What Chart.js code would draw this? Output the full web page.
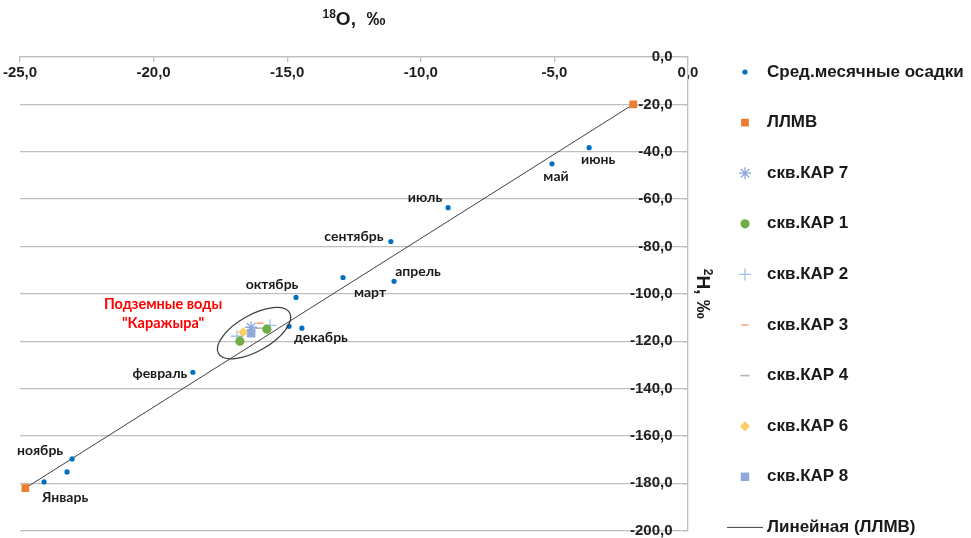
<!DOCTYPE html>
<html>
<head>
<meta charset="utf-8">
<script src="https://cdn.jsdelivr.net/npm/chart.js@4/dist/chart.umd.min.js"></script>
<style>
  html, body { margin: 0; padding: 0; background: #ffffff; }
  #wrap { width: 971px; height: 538px; }
</style>
</head>
<body>
<div id="wrap"><canvas id="chart" width="971" height="538"></canvas></div>
<script>
// Monthly mean precipitation: δ18O and δ2H, ‰
const monthLabels = ['июнь', 'май', 'июль', 'сентябрь', 'апрель', 'март', 'октябрь', '', 'декабрь', 'февраль', 'ноябрь', '', 'Январь'];
const precipO18 = [-3.70, -5.09, -8.98, -11.12, -11.00, -12.91, -14.67, -14.93, -14.45, -18.53, -23.05, -23.24, -24.10];
const precipH2  = [-38.3, -45.1, -63.6, -77.9, -94.7, -93.1, -101.5, -113.7, -114.5, -133.1, -169.7, -175.2, -179.4];

// Local meteoric water line (ЛЛМВ) end points
const lmwlO18 = [-2.05, -24.80];
const lmwlH2  = [-20.0, -182.0];

// Groundwater wells
const kar7O18 = [-16.35];          const kar7H2 = [-114.1];
const kar1O18 = [-16.77, -15.76];  const kar1H2 = [-120.0, -114.9];
const kar2O18 = [-15.64, -16.88];  const kar2H2 = [-113.3, -117.9];
const kar3O18 = [-16.02];          const kar3H2 = [-112.4];
const kar4O18 = [-16.09];          const kar4H2 = [-114.5];
const kar6O18 = [-16.65];          const kar6H2 = [-116.2];
const kar8O18 = [-16.35];          const kar8H2 = [-116.6];

// Centre of the groundwater group outline (δ18O, δ2H)
const groupCentre = [-16.24, -116.6];

// Axis ticks
const xTickStep = 5, xMin = -25, xMax = 0;
const yTickStep = 20, yMin = -200, yMax = 0;

const pts = (xs, ys) => xs.map((v, i) => ({ x: v, y: ys[i] }));

// Least-squares trend line through the ЛЛМВ points
function trend(xs, ys) {
  const n = xs.length;
  const mx = xs.reduce((a, b) => a + b, 0) / n;
  const my = ys.reduce((a, b) => a + b, 0) / n;
  let sxy = 0, sxx = 0;
  xs.forEach((v, i) => { sxy += (v - mx) * (ys[i] - my); sxx += (v - mx) * (v - mx); });
  const k = sxy / sxx, b = my - k * mx;
  const lo = Math.min(...xs), hi = Math.max(...xs);
  return [{ x: lo, y: k * lo + b }, { x: hi, y: k * hi + b }];
}

const fmt = v => Number(v).toFixed(1).replace('.', ',');
// y labels sit left of the axis line with a gap
const fmtY = v => fmt(v) + '   \u2009';
const tickFont = { family: '"Liberation Sans", Arial, sans-serif', size: 15, weight: 'bold' };

// Month names next to the precipitation points
const pointLabels = {
  id: 'pointLabels',
  afterDatasetsDraw(chart, args, opts) {
    const ctx = chart.ctx;
    const meta = chart.getDatasetMeta(0);
    ctx.save();
    ctx.font = opts.font;
    ctx.fillStyle = opts.color;
    ctx.textAlign = 'center';
    ctx.textBaseline = 'middle';
    meta.data.forEach((el, i) => {
      const t = monthLabels[i];
      if (!t) return;
      const [dx, dy] = opts.offsets[i];
      ctx.fillText(t, el.x + dx, el.y + dy);
    });
    ctx.restore();
  }
};

// Outline around the groundwater samples with its caption
const groupOutline = {
  id: 'groupOutline',
  afterDatasetsDraw(chart, args, opts) {
    const ctx = chart.ctx;
    const cx = chart.scales.x.getPixelForValue(groupCentre[0]);
    const cy = chart.scales.y.getPixelForValue(groupCentre[1]);
    ctx.save();
    ctx.beginPath();
    ctx.ellipse(cx, cy, opts.rx, opts.ry, opts.rotation, 0, Math.PI * 2);
    ctx.strokeStyle = opts.color;
    ctx.lineWidth = opts.lineWidth;
    ctx.stroke();
    ctx.font = opts.font;
    ctx.fillStyle = opts.textColor;
    ctx.textAlign = 'center';
    ctx.textBaseline = 'middle';
    opts.caption.forEach((line, i) => {
      ctx.fillText(line, cx + opts.textDx, cy + opts.textDy + i * opts.lineGap);
    });
    ctx.restore();
  }
};

// Axis titles with superscript isotope numbers
const axisTitles = {
  id: 'axisTitles',
  afterDraw(chart, args, opts) {
    const ctx = chart.ctx;
    const a = chart.chartArea;
    const big = 'bold 19px "Liberation Sans", Arial, sans-serif';
    const small = 'bold 12px "Liberation Sans", Arial, sans-serif';
    function drawSup(sup, main, x, y) {
      ctx.font = small; const ws = ctx.measureText(sup).width;
      ctx.font = big;   const wm = ctx.measureText(main).width;
      const sx = x - (ws + wm) / 2;
      ctx.textBaseline = 'alphabetic';
      ctx.textAlign = 'left';
      ctx.font = small; ctx.fillText(sup, sx, y - 7);
      ctx.font = big;   ctx.fillText(main, sx + ws, y);
    }
    ctx.save();
    ctx.fillStyle = opts.color;
    drawSup('18', 'O,  ‰', (a.left + a.right) / 2, opts.xTitleY);
    ctx.translate(a.right + opts.yTitleDx, (a.top + a.bottom) / 2);
    ctx.rotate(Math.PI / 2);
    drawSup('2', 'H, ‰', 0, 0);
    ctx.restore();
  }
};

// Legend column on the right
const sideLegend = {
  id: 'sideLegend',
  afterDraw(chart, args, opts) {
    const ctx = chart.ctx;
    const helpers = Chart.helpers;
    ctx.save();
    chart.data.datasets.forEach((ds, i) => {
      const y = opts.top + i * opts.step;
      const mx = opts.markerX;
      if (ds.showLine) {
        ctx.beginPath();
        ctx.moveTo(mx - opts.lineHalf, y);
        ctx.lineTo(mx + opts.lineHalf, y);
        ctx.strokeStyle = ds.borderColor;
        ctx.lineWidth = ds.borderWidth;
        ctx.stroke();
      } else {
        ctx.fillStyle = ds.backgroundColor;
        ctx.strokeStyle = ds.borderColor;
        ctx.lineWidth = ds.borderWidth;
        helpers.drawPoint(ctx, { pointStyle: ds.pointStyle, radius: ds.pointRadius, rotation: 0, borderWidth: ds.borderWidth }, mx, y);
      }
      ctx.font = opts.font;
      ctx.fillStyle = opts.color;
      ctx.textAlign = 'left';
      ctx.textBaseline = 'middle';
      ctx.fillText(ds.label, opts.textX, y);
    });
    ctx.restore();
  }
};

// The crossing axes should not push the plot edges inward for their end labels
const noEdgePadding = scale => {
  scale.paddingTop = 0;
  scale.paddingBottom = 0;
  scale.paddingLeft = 0;
  scale.paddingRight = 0;
};

const ctx = document.getElementById('chart').getContext('2d');
new Chart(ctx, {
  type: 'scatter',
  data: {
    datasets: [
      { label: 'Сред.месячные осадки', data: pts(precipO18, precipH2), pointStyle: 'circle', pointRadius: 2.6,
        backgroundColor: '#0070C0', borderColor: '#0070C0', borderWidth: 0 },
      { label: 'ЛЛМВ', data: pts(lmwlO18, lmwlH2), pointStyle: 'rect', pointRadius: 5.5,
        backgroundColor: '#ED7D31', borderColor: '#ED7D31', borderWidth: 0 },
      { label: 'скв.КАР 7', data: pts(kar7O18, kar7H2), pointStyle: 'star', pointRadius: 6,
        backgroundColor: 'rgba(0,0,0,0)', borderColor: '#8EA9DB', borderWidth: 1.3 },
      { label: 'скв.КАР 1', data: pts(kar1O18, kar1H2), pointStyle: 'circle', pointRadius: 4.6,
        backgroundColor: '#70AD47', borderColor: '#70AD47', borderWidth: 0 },
      { label: 'скв.КАР 2', data: pts(kar2O18, kar2H2), pointStyle: 'cross', pointRadius: 6,
        backgroundColor: 'rgba(0,0,0,0)', borderColor: '#9DC3E6', borderWidth: 1.3 },
      { label: 'скв.КАР 3', data: pts(kar3O18, kar3H2), pointStyle: 'line', pointRadius: 3.5,
        backgroundColor: 'rgba(0,0,0,0)', borderColor: '#F4A582', borderWidth: 1.6 },
      { label: 'скв.КАР 4', data: pts(kar4O18, kar4H2), pointStyle: 'line', pointRadius: 4.5,
        backgroundColor: 'rgba(0,0,0,0)', borderColor: '#B4B4B4', borderWidth: 1.6 },
      { label: 'скв.КАР 6', data: pts(kar6O18, kar6H2), pointStyle: 'rectRot', pointRadius: 5,
        backgroundColor: '#FFCC66', borderColor: '#FFCC66', borderWidth: 0 },
      { label: 'скв.КАР 8', data: pts(kar8O18, kar8H2), pointStyle: 'rect', pointRadius: 6,
        backgroundColor: '#8EA9DB', borderColor: '#8EA9DB', borderWidth: 0 },
      { label: 'Линейная (ЛЛМВ)', type: 'line', data: trend(lmwlO18, lmwlH2), showLine: true,
        pointRadius: 0, borderColor: '#404040', borderWidth: 1, backgroundColor: '#404040', fill: false }
    ]
  },
  options: {
    responsive: false,
    animation: false,
    events: [],
    clip: false,
    layout: { padding: { left: 20, top: 57, right: 283, bottom: 3 } },
    scales: {
      x: {
        type: 'linear', position: { y: 0 }, min: xMin, max: xMax,
        afterFit: noEdgePadding,
        ticks: { stepSize: xTickStep, callback: fmt, font: tickFont, color: '#1e1e1e', padding: 2, maxRotation: 0, autoSkip: false },
        grid: { drawOnChartArea: false, drawTicks: true, tickLength: 5, color: '#bfbfbf', lineWidth: 1.3 },
        border: { display: true, color: '#bfbfbf', width: 1.3 }
      },
      y: {
        type: 'linear', position: { x: 0 }, min: yMin, max: yMax,
        afterFit: noEdgePadding,
        ticks: { stepSize: yTickStep, callback: fmtY, font: tickFont, color: '#1e1e1e', padding: 4, autoSkip: false },
        grid: { color: '#bfbfbf', lineWidth: 1.3, drawTicks: true, tickLength: 4 },
        border: { display: true, color: '#bfbfbf', width: 1.3 }
      }
    },
    plugins: {
      legend: { display: false },
      tooltip: { enabled: false },
      pointLabels: {
        font: 'bold 14px Lato, "Open Sans", sans-serif',
        color: '#1a1a1a',
        offsets: [[9, 12], [4, 13], [-23, -10], [-37, -5], [24, -10], [27, 15], [-24, -13], [0, 0], [19, 9], [-33, 1], [-32, -8], [0, 0], [21, 16]]
      },
      groupOutline: {
        rx: 41, ry: 18, rotation: -0.52, color: '#404040', lineWidth: 1.3,
        caption: ['Подземные воды', '"Каражыра"'],
        font: 'bold 14.5px Lato, "Open Sans", sans-serif', textColor: '#ff0000',
        textDx: -91, textDy: -29, lineGap: 19
      },
      axisTitles: { color: '#1a1a1a', xTitleY: 25, yTitleDx: 9 },
      sideLegend: {
        top: 72, step: 50.6, markerX: 745, lineHalf: 18, textX: 767,
        font: 'bold 17px "Liberation Sans", Arial, sans-serif', color: '#1a1a1a'
      }
    }
  },
  plugins: [pointLabels, groupOutline, axisTitles, sideLegend]
});
</script>
</body>
</html>
